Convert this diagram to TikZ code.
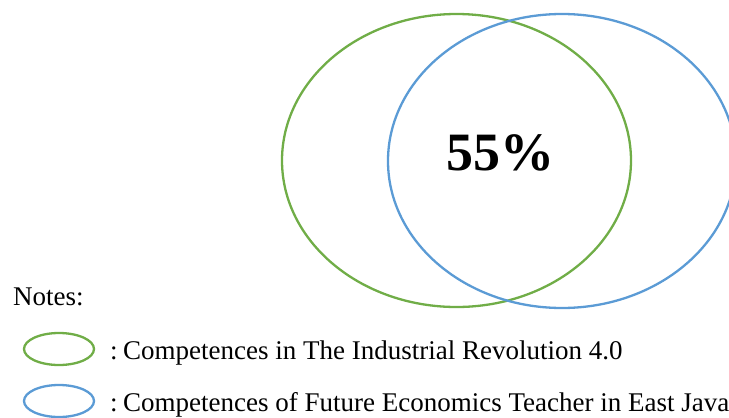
\documentclass[tikz,border=0pt]{standalone}
\usepackage{fontspec}
\setmainfont{Liberation Serif}
\usetikzlibrary{positioning,shapes.geometric}

\definecolor{vgreen}{RGB}{112,173,71}
\definecolor{vblue}{RGB}{91,155,213}

\begin{document}
\begin{tikzpicture}[x=1pt,y=-1pt,
    ring/.style={line width=2.3pt},
    keyring/.style={ellipse,line width=2.3pt,minimum width=70pt,minimum height=32pt,inner sep=0pt},
    note/.style={inner sep=0pt,anchor=base west,font=\fontsize{27}{30}\selectfont}]

	%% page frame
	\useasboundingbox (0,0) rectangle (729,418);
	\clip (0,0) rectangle (729,418);

	%% centres of the two sets
	\coordinate (G) at (456.5,160.5); % industrial revolution 4.0
	\coordinate (B) at (562,161);     % economics teacher

	\draw[ring,vgreen] (G) ellipse [x radius=174.5, y radius=146.5];
	\draw[ring,vblue] (B) ellipse [x radius=174, y radius=147];

	%% overlap share
	\node[font=\bfseries\fontsize{54}{60}\selectfont] (share) at (500.5,153) {55\%};

	%% legend
	\node[note] (notes) at (13,305) {Notes:};
	\node[keyring,draw=vgreen] (keyG) at (59,349) {};
	\node[keyring,draw=vblue] (keyB) at (59,401) {};
	\node[note] (txtG) at (110,359) {:\kern0.2em Competences in The Industrial Revolution 4.0};
	\node[note] (txtB) at (110,411) {:\kern0.2em Competences of Future Economics Teacher in East Java};
\end{tikzpicture}
\end{document}
